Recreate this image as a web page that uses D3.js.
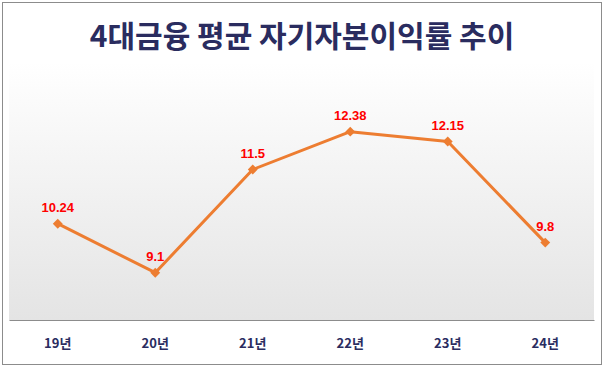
<!DOCTYPE html>
<html><head><meta charset="utf-8">
<script src="https://cdn.jsdelivr.net/npm/d3@7"></script>
<style>body{margin:0;background:#fff}svg{display:block}</style>
</head><body>
<script>
const categories = ["19년","20년","21년","22년","23년","24년"];
const values = [10.24, 9.1, 11.5, 12.38, 12.15, 9.8];
const labels = ["10.24","9.1","11.5","12.38","12.15","9.8"];
const title = "4대금융 평균 자기자본이익률 추이";

const W = 604, H = 367;
const svg = d3.select("body").append("svg").attr("width", W).attr("height", H);
const defs = svg.append("defs");
const grad = defs.append("linearGradient").attr("id","bg").attr("x1",0).attr("y1",0).attr("x2",0).attr("y2",1);
grad.append("stop").attr("offset","0%").attr("stop-color","#ffffff");
grad.append("stop").attr("offset","100%").attr("stop-color","#e4e4e4");

svg.append("rect").attr("x",2.5).attr("y",2.5).attr("width",599).attr("height",362)
  .attr("fill","#fff").attr("stroke","#8c8c8c").attr("stroke-width",1);

const plot = {left: 9, right: 594, top: 62, bottom: 320};
const x = d3.scaleBand().domain(categories).range([plot.left, plot.right]);
const y = d3.scaleLinear().domain([8, 14]).range([plot.bottom, plot.top]);

svg.append("rect").attr("x",plot.left).attr("y",plot.top).attr("width",plot.right-plot.left)
  .attr("height",plot.bottom-plot.top).attr("fill","url(#bg)");

svg.append("text").attr("x",W/2).attr("y",47).attr("text-anchor","middle")
  .attr("font-family","'Noto Sans CJK KR'").attr("font-weight","bold").attr("font-size",30)
  .attr("fill","#2a2c5f").text(title);

const xAxis = svg.append("g").attr("transform",`translate(0,${plot.bottom})`)
  .call(d3.axisBottom(x).tickSize(0).tickPadding(19));
xAxis.select(".domain").attr("stroke","#8c8c8c").attr("stroke-width",1.2);
xAxis.selectAll("text").attr("font-family","'Noto Sans CJK KR'").attr("font-weight","bold")
  .attr("font-size",13).attr("fill","#2a2c5f");

const cx = (d,i) => x(categories[i]) + x.bandwidth()/2;
const line = d3.line().x((d,i)=>cx(d,i)).y(d=>y(d));
svg.append("path").datum(values).attr("d",line).attr("fill","none")
  .attr("stroke","#ed7d31").attr("stroke-width",3).attr("stroke-linejoin","round");

svg.selectAll(".mk").data(values).enter().append("rect")
  .attr("x",-3.5).attr("y",-3.5).attr("width",7).attr("height",7)
  .attr("transform",(d,i)=>`translate(${cx(d,i)},${y(d)}) rotate(45)`).attr("fill","#ed7d31");

svg.selectAll(".lb").data(values).enter().append("text")
  .attr("x",(d,i)=>cx(d,i)).attr("y",d=>y(d)-12).attr("text-anchor","middle")
  .attr("font-family","'Liberation Sans', Arial").attr("font-weight","bold").attr("font-size",13)
  .attr("fill","#ff0000").text((d,i)=>labels[i]);
</script>
</body></html>
